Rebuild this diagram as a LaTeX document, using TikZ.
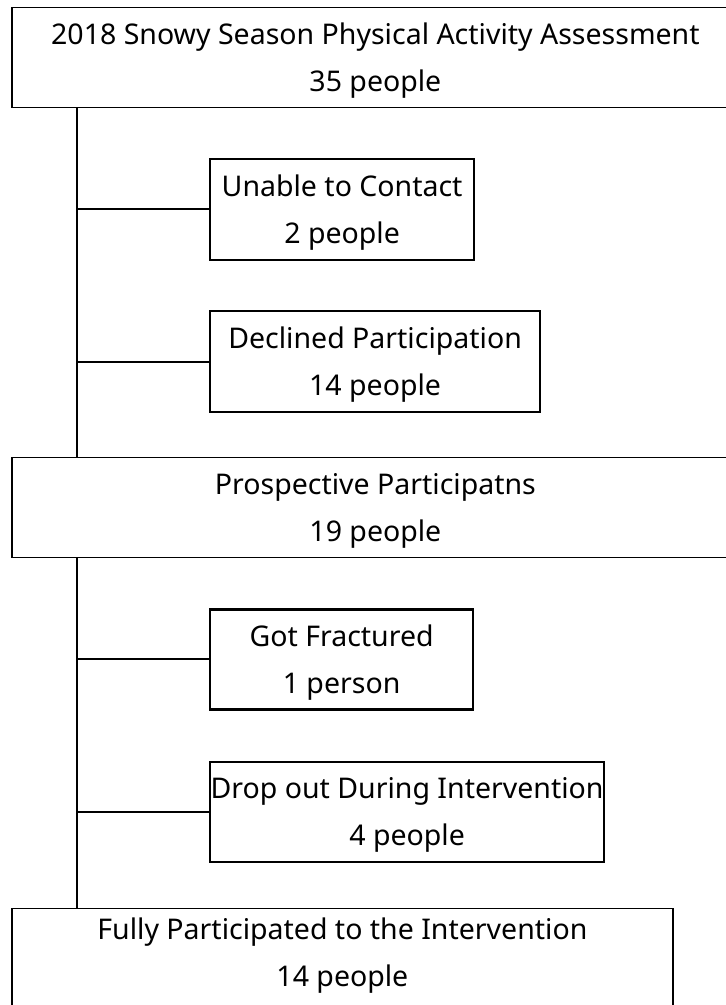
\documentclass[tikz,border=0pt]{standalone}
\usepackage{fontspec}
\setmainfont{Noto Sans}
\usepackage{tikz}
\usetikzlibrary{positioning}

\begin{document}
\begin{tikzpicture}[x=1pt, y=1pt, every node/.style={font=\fontsize{28.5}{47}\selectfont, align=center, inner sep=0pt, text height=67.5pt, text depth=0pt}, stage/.style={draw, line width=1.8pt, minimum height=100pt, anchor=north west}, loss/.style={draw, line width=2.2pt, minimum height=101pt}, link/.style={line width=2pt}]
\useasboundingbox (0,0) rectangle (726,-1005);
\coordinate (trunk) at (77,0);
\node[stage, minimum width=727pt] (assess) at (11,-6.5) {2018 Snowy Season Physical Activity Assessment\\35 people};
\node[loss, minimum width=264pt, below right=49.5pt and 198pt of assess.south west] (unable) {Unable to Contact\\2 people};
\node[loss, minimum width=330pt, below right=49pt and 0pt of unable.south west] (declined) {Declined Participation\\14 people};
\node[stage, minimum width=727pt] (prospective) at (11,-456.5) {Prospective Participatns\\19 people};
\node[loss, minimum width=263pt, minimum height=100pt, below right=50pt and 198pt of prospective.south west] (fractured) {Got Fractured\\1 person};
\node[loss, minimum width=394pt, minimum height=100pt, below right=50pt and 0pt of fractured.south west] (dropout) {Drop out During Intervention\\4 people};
\node[stage, minimum width=661pt, text depth=12pt] (completed) at (11,-907.5) {Fully Participated to the Intervention\\14 people};
\draw[link] (assess.south -| trunk)--(prospective.north -| trunk);
\draw[link] (prospective.south -| trunk)--(completed.north -| trunk);
\draw[link] (unable.west)--(unable.west -| trunk);
\draw[link] (declined.west)--(declined.west -| trunk);
\draw[link] (fractured.west)--(fractured.west -| trunk);
\draw[link] (dropout.west)--(dropout.west -| trunk);
\end{tikzpicture}
\end{document}
